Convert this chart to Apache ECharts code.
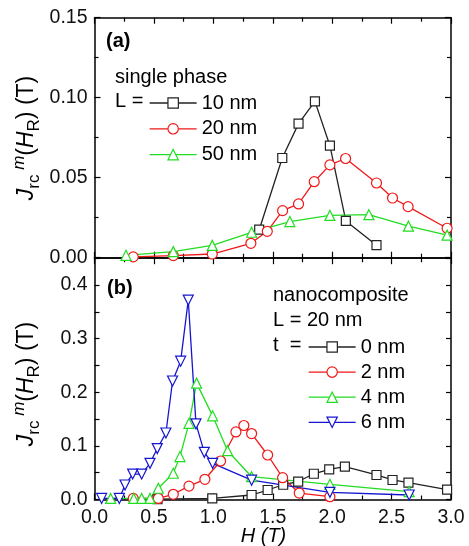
<!DOCTYPE html>
<html>
<head>
<meta charset="utf-8">
<script src="https://cdn.jsdelivr.net/npm/echarts@6/dist/echarts.min.js"></script>
<style>html,body{margin:0;padding:0;background:#fff;}#c{width:469px;height:546px;}</style>
</head>
<body>
<div id="c"></div>
<script>
// ---- Panel (a): single phase ----
const H_10nm = [1.386, 1.580, 1.717, 1.855, 1.981, 2.115, 2.373];
const J_10nm = [0.0175, 0.0623, 0.0838, 0.0977, 0.0700, 0.0230, 0.0078];
const H_20nm = [0.326, 0.663, 0.991, 1.316, 1.454, 1.583, 1.717, 1.849, 1.981, 2.113, 2.373, 2.508, 2.639, 2.967];
const J_20nm = [0.0005, 0.0013, 0.0023, 0.0090, 0.0165, 0.0294, 0.0336, 0.0475, 0.0580, 0.0620, 0.0467, 0.0373, 0.0319, 0.0184];
const H_50nm = [0.265, 0.663, 0.991, 1.322, 1.644, 1.981, 2.309, 2.642, 2.967];
const J_50nm = [0.0015, 0.0038, 0.0077, 0.0159, 0.0226, 0.0264, 0.0269, 0.0197, 0.0141];

// ---- Panel (b): nanocomposite, L = 20 nm ----
const H_t0 = [0.53, 0.991, 1.322, 1.457, 1.588, 1.714, 1.846, 1.975, 2.107, 2.373, 2.508, 2.642, 2.967];
const J_t0 = [0.0005, 0.002, 0.0084, 0.0177, 0.0275, 0.0335, 0.048, 0.0563, 0.0612, 0.0457, 0.0364, 0.0313, 0.0185];
const H_t2 = [0.326, 0.537, 0.663, 0.795, 0.929, 1.061, 1.190, 1.257, 1.322, 1.457, 1.583, 1.723, 1.981];
const J_t2 = [0.002, 0.002, 0.0097, 0.025, 0.0377, 0.0718, 0.126, 0.138, 0.123, 0.083, 0.0407, 0.012, 0.0052];
const H_t4 = [0.136, 0.330, 0.397, 0.467, 0.537, 0.663, 0.719, 0.795, 0.859, 0.994, 1.120, 1.322, 1.981, 2.648];
const J_t4 = [0.002, 0.002, 0.002, 0.002, 0.021, 0.049, 0.080, 0.142, 0.217, 0.156, 0.091, 0.0425, 0.0283, 0.0146];
const H_t6 = [0.060, 0.209, 0.257, 0.321, 0.397, 0.467, 0.528, 0.601, 0.657, 0.725, 0.789, 0.854, 0.924, 0.994, 1.322, 1.981, 2.648];
const J_t6 = [0.002, 0.002, 0.027, 0.0475, 0.0475, 0.0675, 0.095, 0.124, 0.221, 0.258, 0.372, 0.141, 0.088, 0.0675, 0.036, 0.0134, 0.0084];

const xTicks = [0, 0.5, 1.0, 1.5, 2.0, 2.5, 3.0];
const yTicksA = [0, 0.05, 0.10, 0.15];
const yTicksB = [0, 0.1, 0.2, 0.3, 0.4];

const FONT = 'Liberation Sans, Arial, Helvetica, sans-serif';
const pair = (xs, ys) => xs.map((x, i) => [x, ys[i]]);

const chart = echarts.init(document.getElementById('c'), null, {renderer: 'canvas'});

const axLine = {show: true, onZero: false, lineStyle: {color: '#000', width: 1.5}};
function xAx(gi, pos, labels) {
  return {
    type: 'value', gridIndex: gi, position: pos, min: 0, max: 3, interval: 0.5,
    axisLine: axLine,
    axisTick: {show: true, inside: true, length: 6, lineStyle: {color: '#000', width: 1.2}},
    minorTick: {show: true, splitNumber: 2, length: 4, lineStyle: {color: '#000', width: 1.2}},
    axisLabel: {show: labels, margin: 8, fontSize: 19.5, fontFamily: FONT, color: '#111',
      formatter: v => v.toFixed(1)},
    splitLine: {show: false}, minorSplitLine: {show: false}
  };
}
const yAxA = (pos, labels) => ({
  type: 'value', gridIndex: 0, position: pos, min: 0, max: 0.15, interval: 0.05,
  axisLine: axLine,
  axisTick: {show: true, inside: true, length: 6, lineStyle: {color: '#000', width: 1.2}},
  minorTick: {show: true, splitNumber: 2, length: 4, lineStyle: {color: '#000', width: 1.2}},
  axisLabel: {show: labels, margin: 7, fontSize: 19.5, fontFamily: FONT, color: '#111',
    formatter: v => v.toFixed(2)},
  splitLine: {show: false}
});
const yAxB = (pos, labels) => ({
  type: 'value', gridIndex: 1, position: pos, min: 0, max: 0.45, interval: 0.05,
  axisLine: axLine,
  axisTick: {show: true, inside: true, length: 5, lineStyle: {color: '#000', width: 1.2}},
  axisLabel: {show: labels, margin: 7, fontSize: 19.5, fontFamily: FONT, color: '#111',
    formatter: v => {
      const k = v * 10;
      if (Math.abs(k - Math.round(k)) > 1e-6) return '';
      return yTicksB.some(t => Math.abs(t - v) < 1e-6) ? v.toFixed(1) : '';
    }},
  splitLine: {show: false}
});

function ser(name, xs, ys, color, symbol, size, gi, rot) {
  return {
    type: 'line', name: name, xAxisIndex: gi === 0 ? 0 : 2, yAxisIndex: gi === 0 ? 0 : 2,
    data: pair(xs, ys), symbol: symbol, symbolSize: size, symbolRotate: rot || 0,
    showAllSymbol: true, animation: false,
    lineStyle: {color: color, width: 1.3},
    itemStyle: {color: '#fff', borderColor: color, borderWidth: 1.2},
    emphasis: {disabled: true}
  };
}

const C_BLACK = '#222222', C_RED = '#f01818', C_GREEN = '#22dd22', C_BLUE = '#1515d0';

const legendText = {fontSize: 20, fontFamily: FONT, color: '#000', lineHeight: 20};

const yTitle = {
  i: {fontStyle: 'italic', fontSize: 23, fontFamily: FONT, lineHeight: 32, verticalAlign: 'middle'},
  n: {fontSize: 23, fontFamily: FONT, lineHeight: 32, verticalAlign: 'middle'},
  sb: {fontSize: 17, fontFamily: FONT, lineHeight: 16, verticalAlign: 'bottom'},
  sp: {fontStyle: 'italic', fontSize: 17, fontFamily: FONT, lineHeight: 16, verticalAlign: 'top'}
};
const yTitleText = '{i|J}{sb|rc}{sp| m}{n|(}{i|H}{sb|R}{n|) (T)}';

function txt(x, y, s, extra) {
  return {type: 'text', x: x, y: y, silent: true,
    style: Object.assign({text: s, fontSize: 20, fontFamily: FONT, fill: '#000', align: 'left', verticalAlign: 'middle'}, extra || {})};
}

const legendBase = {orient: 'vertical', padding: 0, itemWidth: 47, itemHeight: 13,
  textStyle: legendText, selectedMode: false,
  itemStyle: {borderWidth: 1.2}, lineStyle: {width: 1.3}};

chart.setOption({
  animation: false,
  backgroundColor: '#fff',
  grid: [
    {left: 94.5, right: 18, top: 17.7, height: 240},
    {left: 94.5, right: 18, top: 258.2, height: 241.3}
  ],
  xAxis: [xAx(0, 'bottom', false), xAx(0, 'top', false), xAx(1, 'bottom', true), xAx(1, 'top', false)],
  yAxis: [yAxA('left', true), yAxA('right', false), yAxB('left', true), yAxB('right', false)],
  legend: [
    Object.assign({}, legendBase, {data: ['10 nm', '20 nm', '50 nm'], left: 149, top: 93, itemGap: 5.8}),
    Object.assign({}, legendBase, {data: ['0 nm', '2 nm', '4 nm', '6 nm'], left: 308, top: 337, itemGap: 5.1})
  ],
  series: [
    ser('10 nm', H_10nm, J_10nm, C_BLACK, 'rect', 9, 0),
    ser('20 nm', H_20nm, J_20nm, C_RED, 'circle', 10, 0),
    ser('50 nm', H_50nm, J_50nm, C_GREEN, 'triangle', 10, 0),
    ser('0 nm', H_t0, J_t0, C_BLACK, 'rect', 9, 1),
    ser('2 nm', H_t2, J_t2, C_RED, 'circle', 10, 1),
    ser('4 nm', H_t4, J_t4, C_GREEN, 'triangle', 10, 1),
    ser('6 nm', H_t6, J_t6, C_BLUE, 'triangle', 10, 1, 180)
  ],
  graphic: [
    txt(106, 41.7, '(a)', {fontWeight: 'bold'}),
    txt(115, 77.3, 'single phase'),
    txt(115, 101.7, 'L ='),
    txt(107, 288, '(b)', {fontWeight: 'bold'}),
    txt(273, 295, 'nanocomposite'),
    txt(273, 320, 'L = 20 nm'),
    txt(273, 345.7, 't  ='),
    txt(263.5, 536, 'H (T)', {align: 'center', fontStyle: 'italic'}),
    {type: 'text', x: 27, y: 138, rotation: Math.PI / 2, silent: true,
      style: {text: yTitleText, rich: yTitle, align: 'center', verticalAlign: 'middle', fill: '#000'}},
    {type: 'text', x: 27, y: 384, rotation: Math.PI / 2, silent: true,
      style: {text: yTitleText, rich: yTitle, align: 'center', verticalAlign: 'middle', fill: '#000'}}
  ]
});
</script>
</body>
</html>
